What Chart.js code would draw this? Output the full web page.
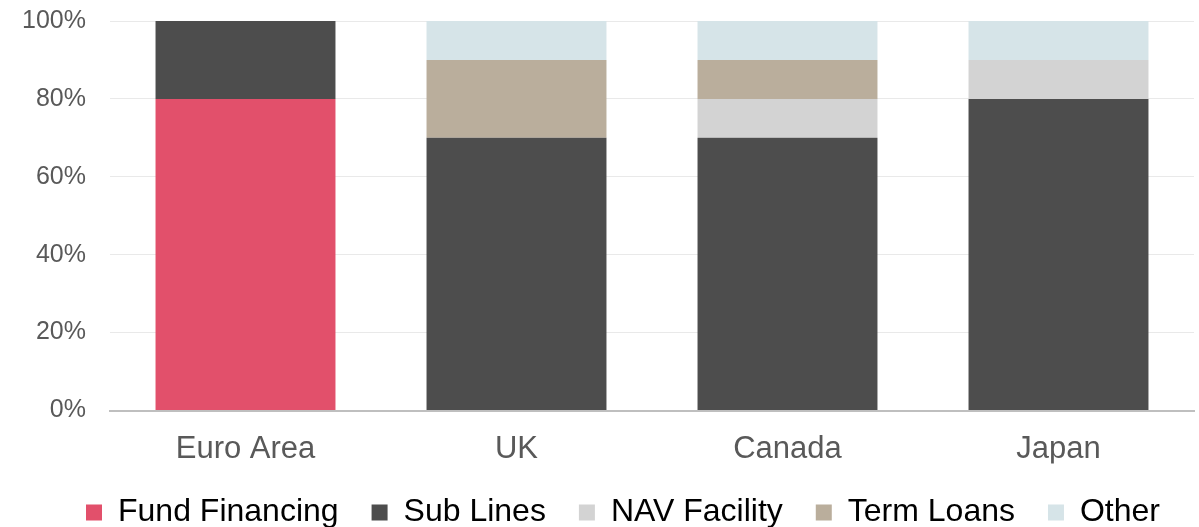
<!DOCTYPE html>
<html>
<head>
<meta charset="utf-8">
<script src="https://cdn.jsdelivr.net/npm/chart.js@4/dist/chart.umd.min.js"></script>
<style>
  html, body { margin: 0; padding: 0; background: #ffffff; }
  #wrap { width: 1199px; height: 527px; position: relative; }
</style>
</head>
<body>
<div id="wrap"><canvas id="c"></canvas></div>
<script>
const categories = ["Euro Area", "UK", "Canada", "Japan"];
const fundFinancing = [80, 0, 0, 0];
const subLines = [20, 70, 70, 80];
const navFacility = [0, 0, 10, 10];
const termLoans = [0, 20, 10, 0];
const other = [0, 10, 10, 10];
const yTicks = [0, 20, 40, 60, 80, 100];

const FONT = "'Liberation Sans', Arial, sans-serif";

const legendShift = {
  id: 'legendShift',
  afterLayout(chart) {
    if (chart.legend) { chart.legend.left += 26; chart.legend.right += 26; }
  }
};

new Chart(document.getElementById('c'), {
  type: 'bar',
  data: {
    labels: categories,
    datasets: [
      { label: 'Fund Financing', data: fundFinancing, backgroundColor: '#E2506B' },
      { label: 'Sub Lines', data: subLines, backgroundColor: '#4D4D4D' },
      { label: 'NAV Facility', data: navFacility, backgroundColor: '#D3D3D3' },
      { label: 'Term Loans', data: termLoans, backgroundColor: '#BAAE9C' },
      { label: 'Other', data: other, backgroundColor: '#D6E4E8' }
    ]
  },
  plugins: [legendShift],
  options: {
    responsive: true,
    maintainAspectRatio: false,
    animation: false,
    datasets: { bar: { categoryPercentage: 1.0, barPercentage: 0.664, borderWidth: 0 } },
    layout: { padding: { top: 21, left: 0, right: 5, bottom: -11.5 } },
    plugins: {
      tooltip: { enabled: false },
      legend: {
        position: 'bottom',
        labels: {
          boxWidth: 16,
          boxHeight: 16,
          padding: 33,
          color: '#000000',
          font: { family: FONT, size: 32, lineHeight: 1 }
        }
      }
    },
    scales: {
      x: {
        stacked: true,
        afterFit(scale) { scale.height = 53; scale.paddingTop = 0; scale.paddingBottom = 0; },
        grid: { display: false, drawTicks: false, tickLength: 0 },
        border: { display: true, color: '#BFBFBF', width: 2 },
        ticks: { color: '#595959', padding: 20, maxRotation: 0, font: { family: FONT, size: 31 } }
      },
      y: {
        stacked: true,
        min: 0,
        max: 100,
        afterBuildTicks(scale) { scale.ticks = yTicks.map(v => ({ value: v })); },
        afterFit(scale) { scale.width = 110; scale.paddingTop = 0; scale.paddingBottom = 0; },
        grid: { color: '#E9E9E9', lineWidth: 1, drawTicks: false, tickLength: 0 },
        border: { display: false },
        ticks: {
          color: '#595959',
          padding: 24,
          font: { family: FONT, size: 25 },
          callback: v => v + '%'
        }
      }
    }
  }
});
</script>
</body>
</html>
